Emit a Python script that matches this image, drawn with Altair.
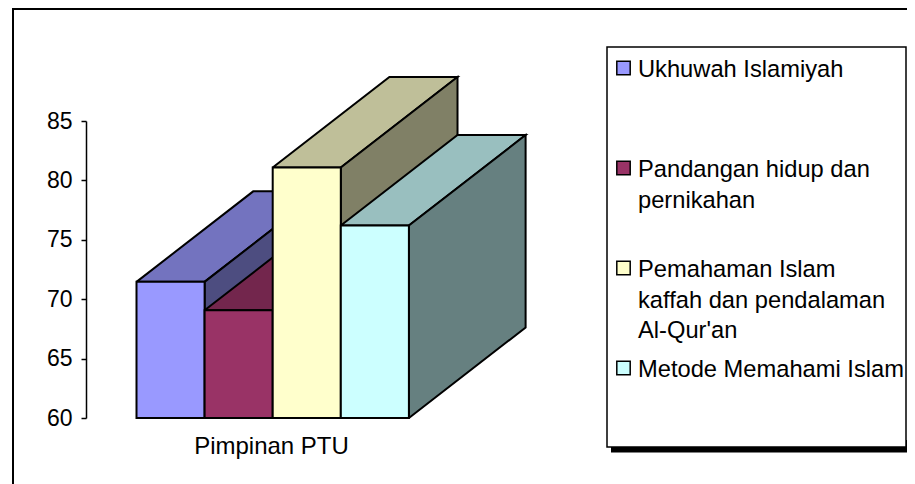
import altair as alt
import pandas as pd

SERIES = ["Ukhuwah Islamiyah", "Pandangan hidup dan pernikahan",
          "Pemahaman Islam kaffah dan pendalaman Al-Qur'an", "Metode Memahami Islam"]
LEGEND_LINES = [["Ukhuwah Islamiyah"], ["Pandangan hidup dan", "pernikahan"],
                ["Pemahaman Islam", "kaffah dan pendalaman", "Al-Qur'an"], ["Metode Memahami Islam"]]
VALUES = [71.46, 69.07, 81.08, 76.2]
CATEGORY = "Pimpinan PTU"
FRONT = ["#9999FF", "#993366", "#FFFFCC", "#CCFFFF"]
TOP = ["#7373BF", "#73264D", "#BFBF99", "#99BFBF"]
SIDE = ["#4D4D80", "#4D1A33", "#808066", "#668080"]
Y_TICKS = [60, 65, 70, 75, 80, 85]

FONT = "Liberation Sans"
FS = 24
FS_LEGEND = 23.7
FS_AXIS = 23
LW = 2
DEPTH_X = 116.7 / 68.1   # depth of the 3-D box, in bar widths
DEPTH_Y = 90.5 / 11.88   # rise of the 3-D box, in value units
BASE = 60
RIGHT = 907  # the last page pixel the drawing may reach without overflowing

# page pixel -> plot-group pixel
PX = lambda p: p - 86
PY = lambda p: p - 121

x_scale = alt.Scale(domain=[-0.7416, 5.7194], nice=False, zero=False)
y_scale = alt.Scale(domain=[60, 85], nice=False, zero=False)
X = alt.X("x:Q", scale=x_scale,
          axis=alt.Axis(title=None, values=[1.975], labelExpr=f"'{CATEGORY}'", domain=False, ticks=False,
                        grid=False, labelFont=FONT, labelFontSize=FS, labelColor="#000000",
                        labelPadding=16, labelAlign="center"))
Y = alt.Y("y:Q", scale=y_scale,
          axis=alt.Axis(title=None, values=Y_TICKS, grid=False, domainColor="#000000", domainWidth=1.5,
                        tickColor="#000000", tickWidth=1.5, tickSize=5, labelFont=FONT, labelFontSize=FS_AXIS,
                        labelColor="#000000", labelPadding=9))

one = alt.Data(values=[{"a": 1}])
layers = []


def box(x0, x1, y0, y1, fill, stroke=None, sw=0):
    kw = {"fill": fill}
    if stroke:
        kw.update(stroke=stroke, strokeWidth=sw)
    return alt.Chart(one).mark_rect(**kw).encode(
        x=alt.value(PX(x0)), x2=alt.value(PX(x1)), y=alt.value(PY(y0)), y2=alt.value(PY(y1)))


def poly(points, fill):
    df = pd.DataFrame([{"x": a, "y": b, "k": i} for i, (a, b) in enumerate(points + points[:1])])
    return alt.Chart(df).mark_line(fill=fill, stroke="#000000", strokeWidth=LW, strokeJoin="miter",
                                   clip=False).encode(x=X, y=Y, order="k:Q")


# axes carrier
layers.append(alt.Chart(pd.DataFrame({"x": [0], "y": [60]})).mark_point(opacity=0).encode(x=X, y=Y))

# outer frame (cut off by the picture at right and bottom)
layers.append(box(12, RIGHT, 8, 10, "#000000"))
layers.append(box(12, 14, 8, 484, "#000000"))

# bars, painted left to right
for i, v in enumerate(VALUES):
    a, b = i, i + 1
    layers.append(poly([(a, v), (a + DEPTH_X, v + DEPTH_Y), (b + DEPTH_X, v + DEPTH_Y), (b, v)], TOP[i]))
    layers.append(poly([(b, BASE), (b + DEPTH_X, BASE + DEPTH_Y), (b + DEPTH_X, v + DEPTH_Y), (b, v)], SIDE[i]))
    front = pd.DataFrame({"x": [a], "x2": [b], "y": [BASE], "y2": [v]})
    layers.append(alt.Chart(front).mark_rect(fill=FRONT[i], stroke="#000000", strokeWidth=LW).encode(
        x=X, x2="x2:Q", y=Y, y2="y2:Q"))

# legend box with its shadow
layers.append(box(611, RIGHT, 440, 452.5, "#000000"))
layers.append(box(607, RIGHT - 1, 47, 447, "#FFFFFF", "#000000", 1.5))

for i, lines in enumerate(LEGEND_LINES):
    cy = 68 + 100 * i
    layers.append(box(616.8, 630.2, cy - 6.7, cy + 6.7, FRONT[i], "#000000", 1.5))
    layers.append(alt.Chart(one).mark_text(
        text=lines, font=FONT, fontSize=FS_LEGEND, color="#000000", align="left", baseline="alphabetic",
        lineHeight=30.5).encode(x=alt.value(PX(638)), y=alt.value(PY(cy + 9))))

chart = alt.layer(*layers).properties(
    width=440, height=297, background="#FFFFFF",
    padding={"left": 78, "top": 113, "right": RIGHT - 8 - 78 - 440, "bottom": 66},
    autosize=alt.AutoSizeParams(type="none"),
).configure_view(stroke=None)

chart.save("out.html", embed_options={"renderer": "svg", "actions": False})
